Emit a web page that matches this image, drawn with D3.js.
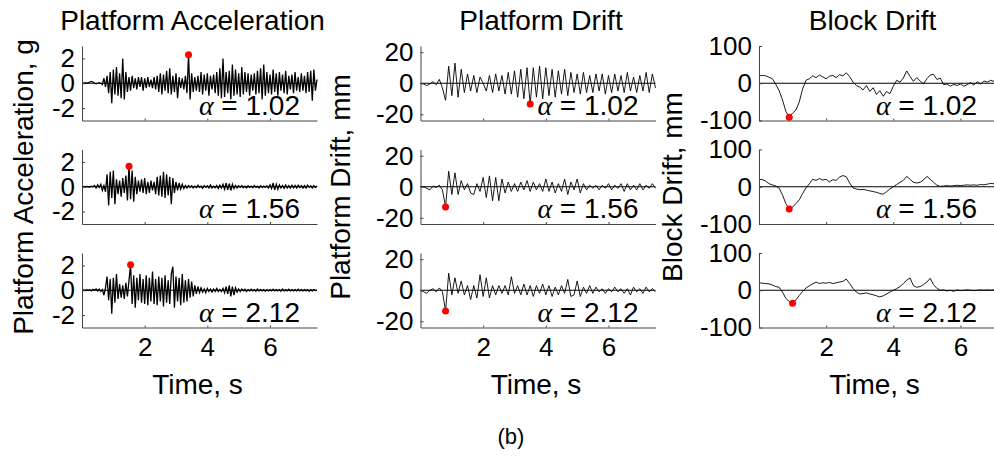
<!DOCTYPE html>
<html>
<head>
<meta charset="utf-8">
<script src="https://cdn.jsdelivr.net/npm/d3@7"></script>
<style>
  body { margin: 0; background: #fff; }
  text { font-family: "Liberation Sans", Arial, sans-serif; fill: #000; }
</style>
</head>
<body>
<svg width="994" height="457"></svg>
<script>
// ---- data ----
const alphas = ["1.02", "1.56", "2.12"];
const titles = ["Platform Acceleration", "Platform Drift", "Block Drift"];
const yLabels = ["Platform Acceleration, g", "Platform Drift, mm", "Block Drift, mm"];
const yTicks = [[-2, 0, 2], [-20, 0, 20], [-100, 0, 100]];
const yDomains = [[-3, 3], [-24, 24], [-100, 100]];
const xDomains = [[0, 7.5], [0, 7.5], [0, 7]];
const xTicks = [2, 4, 6];

// platform acceleration (g), sampled every 0.05 s
const accelStep = 0.05;
const accel102 = [0, 0, 0.05, 0, 0.05, 0.1, 0.15, 0.1, 0, -0.05, 0, 0.05, 0,
  -0.1, 0.4, -0.3, 0.6, -0.8, 0.9, -1.6, 1.1, -0.9, 1.3, -1.0, 0.8, -1.2, 2.0, -1.3, 0.9, -0.7, 0.5, -0.6, 0.6, -0.4, 0.4, -0.5, 0.5, -0.3, 0.5, -0.6,
  0.4, -0.4, 0.5, -0.3, 0.3, -0.4, 0.5, -0.5, 0.6, -0.7,
  0.8, -0.9, 0.7, -0.6, 1.0, -0.8, 1.2, -0.9, 0.6, -0.7,
  0.8, -1.2, 0.5, -0.4, 0.4, -0.5, 0.6, -0.8, 2.3, -1.3,
  0.8, -0.7, 0.5, -0.6, 0.6, -0.7, 0.9, -0.9, 0.7, -0.6,
  0.8, -1.0, 0.6, -0.5, 0.7, -0.8, 0.9, -1.0, 1.2, -1.2,
  2.0, -1.1, 0.9, -0.8, 1.0, -1.3, 1.5, -1.0, 1.1, -0.9,
  0.8, -1.1, 1.3, -0.9, 0.9, -0.7, 0.8, -1.0, 0.7, -0.6,
  0.8, -0.9, 1.0, -0.8, 1.2, -1.3, 1.5, -1.0, 0.9, -0.8,
  0.7, -0.9, 1.1, -0.7, 0.8, -1.0, 0.9, -0.6, 0.7, -0.8,
  1.0, -0.9, 0.6, -0.5, 0.7, -0.8, 0.9, -0.6, 0.5, -0.7,
  0.8, -0.6, 0.6, -0.8, 0.9, -0.7, 1.0, -1.4, 1.1, -0.6, 0.3];
const accel156 = [0, 0.02, -0.02, 0.03, 0, -0.03, 0.05, 0, 0.1, -0.1, 0.15, -0.05, 0.2, -0.3, 0.1, -0.4,
  1.0, -1.5, 1.2, -0.9, 1.3, -1.4, 0.6, -0.6, 0.5, -0.8, 0.7, -0.5, 0.9, -1.1,
  1.65, -1.0, 1.3, -1.2, 0.8, -0.6, 0.5, -0.4, 0.6, -0.5,
  0.7, -0.6, 0.4, -0.5, 0.5, -0.3, 0.4, -0.6, 0.8, -0.7,
  0.9, -0.8, 1.2, -0.9, 1.0, -0.7, 0.8, -1.4, 0.7, -0.5,
  0.4, -0.3, 0.3, -0.2, 0.2, -0.15, 0.1,
  -0.1, 0.1, -0.05, 0.08, -0.1, 0.05, -0.08, 0.12, -0.05, 0.05,
  -0.12, 0.1, -0.05, 0.08, -0.1, 0.15, -0.1, 0.05, -0.08, 0.1,
  -0.15, 0.12, -0.1, 0.2, -0.2, 0.3, -0.25, 0.25, -0.3, 0.2,
  -0.15, 0.1, -0.1, 0.08, -0.05, 0.1, -0.08, 0.05, -0.1, 0.08,
  -0.05, 0.05, -0.08, 0.1, -0.05, 0.05, -0.1, 0.08, -0.05, 0.05,
  -0.05, 0.08, -0.1, 0.15, -0.15, 0.3, -0.25, 0.2, -0.2, 0.15,
  -0.1, 0.1, -0.12, 0.15, -0.1, 0.08, -0.1, 0.12, -0.08, 0.1,
  -0.1, 0.12, -0.05, 0.1, -0.1, 0.08, -0.1, 0.12, -0.05, 0.08,
  -0.1, 0.1, -0.05, 0.05];
const accel212 = [0, 0.02, -0.03, 0.05, 0, 0.05, -0.05, 0.08, 0, 0.1,
  -0.05, 0.1, -0.1, 0.05, -0.4, 0.2, 1.1, -0.8, 0.9, -1.9,
  1.0, -1.0, 1.3, -0.7, 0.5, -0.6, 0.4, -0.7, 0.6, -0.5,
  0.8, 2.05, -1.1, 1.2, -1.4, 1.0, -0.8, 1.3, -1.0, 0.9,
  -1.1, 1.2, -1.2, 1.0, -0.9, 1.5, -1.1, 0.9, -1.2, 1.1,
  -0.9, 1.0, -1.3, 1.2, -1.0, 0.8, -1.1, 1.3, 1.9, -1.4,
  1.1, -0.9, 1.0, -1.2, 1.3, -1.0, 0.8, -0.9, 0.9, -0.6,
  0.7, -0.5, 0.4, -0.3, 0.3, -0.2, 0.2, -0.15, 0.1, -0.2,
  0.15, -0.1, 0.1, -0.15, 0.1, -0.1, 0.15, -0.1, 0.05, -0.1,
  0.15, -0.2, 0.3, -0.3, 0.4, -0.5, 0.3, -0.4, 0.2, -0.15,
  0.1, -0.1, 0.1, -0.05, 0.08, -0.1, 0.05, -0.05, 0.08, -0.05,
  0.05, -0.08, 0.1, -0.05, 0.05, -0.05, 0.05, -0.08, 0.05, -0.05,
  0.05, -0.05, 0.08, -0.05, 0.05, -0.05, 0.05, -0.08, 0.1, -0.05,
  0.05, -0.05, 0.08, -0.05, 0.05, -0.05, 0.05, -0.05, 0.08, -0.05,
  0.05, -0.05, 0.05, -0.05, 0.05, -0.08, 0.05, -0.05, 0.05, -0.03, 0.02];

// platform drift (mm), sampled every 0.1 s
const driftStep = 0.1;
const platDrift102 = [0, -0.5, -1.5, -0.5, 1, -1, 2.5, -3, -11, 11,
  -8, 13, -9, 9, -6, 6, -5, 5, -6, 4,
  0, -5, 5, -6, 6, -5, 5, -7, 7, -7,
  8, -9, 9, -10, 10, -13.4, 10, -9, 11, -10,
  10, -8, 9, -9, 8, -7, 9, -8, 7, -6,
  6, -7, 7, -6, 5, -6, 6, -5, 6, -7,
  5, -6, 6, -5, 5, -6, 7, -5, 4, -6,
  5, -5, 7, -6, 6, -3];
const platDrift156 = [0, 0, -1, -2, 0.5, -0.5, 1, -2, -13, 10,
  -5, 9, -5, 4, -2, 2, -4, -5, 2, -3,
  6, -7, 7, -9, 6, -9, 5, -4, 3, -3,
  2, -3, 3, -2, 4, -3, 3, -2, 2, -3,
  5, -3, 3, -4, 2, -3, 5, -5, 3, -2,
  5, -4, 2, -2, 1, -1, 1, -2, 1, -1,
  2, -2, 1, -1, 2, -3, 2, -2, 1, -2,
  2, -2, 1, -1, 2, -1];
const platDrift212 = [0, -1, -2, 0, 1, -1, 1.5, -1, -13.4, 11,
  -3, 8, -2, 6, -3, 3, -6, 3, -5, 10,
  -4, 8, -5, 3, -3, 3, -2, 3, -3, 8.7,
  -2, 3, -3, 4, -3, 3, -4, 3, -2, 4,
  -3, 3, -4, 2, -3, 3, -2, 7, -4, -3,
  6, -4, 2, -2, 3, -2, 2, -1, 1, -2,
  1, -1, 2, -1, 1, -2, 1, -3, 2, -1,
  1, -2, 2, -1, 1, -1];

// block drift (mm), sampled every 0.1 s
const blockStep = 0.1;
const blockDrift102 = [20, 21, 20, 16, 12, -3, -20, -45, -75, -91,
  -80, -72, -50, -15, 8, 12, 20, 15, 22, 17,
  12, 19, 21, 15, 23, 20, 28, 18, 3, -6,
  -10, -18, -6, -22, -12, -30, -20, -35, -22, -28,
  -8, 8, 3, 14, 33, 18, 5, 15, 6, -2,
  12, 22, 24, 10, 14, -4, -2, -8, -3, -6,
  -2, -8, -4, 2, -5, 4, -2, 6, 3, 8, 5];
const blockDrift156 = [20, 19, 15, 8, 5, 2, -4, -22, -45, -60,
  -55, -45, -35, -18, -3, 8, 20, 17, 22, 18,
  20, 13, 19, 17, 26, 30, 27, 10, -3, -6,
  -8, -7, -9, -11, -13, -15, -18, -20, -13, -6,
  0, 6, 12, 17, 28, 20, 12, 10, 12, 18,
  28, 20, 12, 4, 1, 2, 3, 2, 3, 4,
  3, 4, 5, 4, 5, 4, 6, 5, 7, 9, 8];
const blockDrift212 = [20, 19, 18, 17, 14, 10, 8, -5, -22, -30,
  -35, -26, -14, -3, 6, 12, 17, 22, 18, 20,
  19, 21, 18, 20, 22, 24, 30, 18, 5, -5,
  -10, -9, -7, -10, -12, -15, -18, -15, -10, -5,
  0, 4, 10, 18, 27, 33, 12, 8, 10, 15,
  22, 32, 15, 5, 0, 1, -2, 0, -3, 1,
  -1, 0, 1, 0, -1, 0, 1, 0, 1, 0, 1];

const series = [
  { step: accelStep, width: 1.3, rows: [accel102, accel156, accel212] },
  { step: driftStep, width: 0.9, rows: [platDrift102, platDrift156, platDrift212] },
  { step: blockStep, width: 0.9, rows: [blockDrift102, blockDrift156, blockDrift212] }
];

// ---- layout ----
const svg = d3.select("svg");
const plotW = 235, plotH = 74.5;
const colLeft = [82, 420.5, 759];
const rowTop = [46, 149.5, 253];
const yLabelX = [33, 350, 682];
const axisColor = "#444";

series.forEach((s, c) => {
  const x = d3.scaleLinear().domain(xDomains[c]).range([0, plotW]);
  const y = d3.scaleLinear().domain(yDomains[c]).range([plotH, 0]);

  s.rows.forEach((data, r) => {
    const g = svg.append("g")
      .attr("transform", `translate(${colLeft[c]},${rowTop[r]})`);

    const line = d3.line()
      .x((d, i) => x(i * s.step))
      .y(d => y(d));

    g.append("path")
      .datum(data)
      .attr("fill", "none")
      .attr("stroke", "#000")
      .attr("stroke-width", s.width)
      .attr("d", line);

    // zero line
    g.append("line")
      .attr("x1", 0).attr("x2", plotW)
      .attr("y1", y(0)).attr("y2", y(0))
      .attr("stroke", "#000")
      .attr("stroke-width", 1);

    // peak marker
    const k = d3.maxIndex(data, d => Math.abs(d));
    g.append("circle")
      .attr("cx", x(k * s.step))
      .attr("cy", y(data[k]))
      .attr("r", 3.5)
      .attr("fill", "#ff0000");

    const yAxis = g.append("g")
      .call(d3.axisLeft(y).tickValues(yTicks[c]).tickSize(-3).tickSizeOuter(0)
        .tickPadding(7).tickFormat(d => String(d)));
    yAxis.style("font-size", "26px").style("font-family", null);
    yAxis.selectAll("path, line").attr("stroke", axisColor);
    yAxis.selectAll("text").attr("fill", "#000");

    const xAxis = g.append("g")
      .attr("transform", `translate(0,${plotH})`)
      .call(d3.axisBottom(x).tickValues(xTicks).tickSize(-2).tickSizeOuter(0)
        .tickPadding(10).tickFormat(r === 2 ? (d => String(d)) : (() => "")));
    xAxis.style("font-size", "26px").style("font-family", null);
    xAxis.selectAll("path, line").attr("stroke", axisColor);
    xAxis.selectAll("text").attr("fill", "#000");

    // alpha label
    const lab = g.append("text")
      .attr("x", plotW - 17)
      .attr("y", plotH - 6)
      .attr("text-anchor", "end")
      .style("font-size", "28px");
    lab.append("tspan")
      .style("font-family", "'Liberation Serif', 'DejaVu Serif', serif")
      .style("font-style", "italic")
      .text("\u03b1");
    lab.append("tspan").text(" = " + alphas[r]);

    if (r === 0) {
      g.append("text")
        .attr("x", plotW / 2 + [-7, 3, -4][c])
        .attr("y", -16)
        .attr("text-anchor", "middle")
        .style("font-size", "28px")
        .text(titles[c]);
    }
    if (r === 2) {
      g.append("text")
        .attr("x", plotW / 2 - 2)
        .attr("y", plotH + 66)
        .attr("text-anchor", "middle")
        .style("font-size", "28px")
        .text("Time, s");
    }
  });

  svg.append("text")
    .attr("transform", `translate(${yLabelX[c]},187) rotate(-90)`)
    .attr("text-anchor", "middle")
    .style("font-size", "28px")
    .text(yLabels[c]);
});

svg.append("text")
  .attr("x", 511)
  .attr("y", 444)
  .attr("text-anchor", "middle")
  .style("font-size", "22px")
  .text("(b)");
</script>
</body>
</html>
